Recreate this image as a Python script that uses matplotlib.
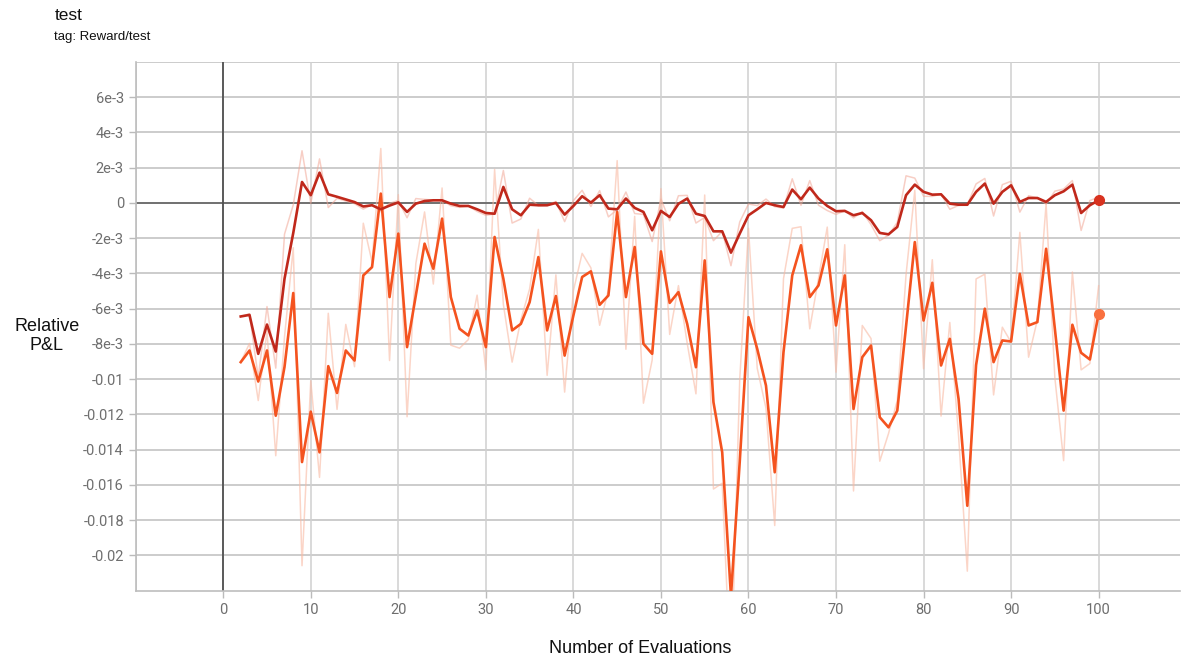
import numpy as np
import matplotlib
matplotlib.use("Agg")
import matplotlib.pyplot as plt

plt.rcParams['font.family'] = ['Liberation Sans', 'DejaVu Sans']

# evaluation index
steps = np.arange(2, 101)

# values in units of 1e-3
dark_smooth = [-6.44, -6.35, -8.56, -6.9, -8.43, -4.3, -1.7, 1.19, 0.44, 1.72,
               0.49, 0.35, 0.2, 0.05, -0.2, -0.13, -0.36, -0.15, 0.03, -0.51,
               -0.04, 0.11, 0.15, 0.15, -0.04, -0.17, -0.17, -0.36, -0.57, -0.61,
               0.91, -0.36, -0.70, -0.1, -0.13, -0.13, 0.0, -0.66, -0.17, 0.38,
               0.02, 0.44, -0.32, -0.36, 0.25, -0.28, -0.51, -1.55, -0.45, -0.8,
               -0.05, 0.25, -0.61, -0.74, -1.61, -1.61, -2.82, -1.74, -0.7, -0.36,
               0.0, -0.13, -0.23, 0.76, 0.21, 0.87, 0.25, -0.17, -0.47, -0.45,
               -0.7, -0.57, -0.98, -1.7, -1.78, -1.36, 0.44, 1.04, 0.63, 0.47,
               0.49, -0.04, -0.1, -0.1, 0.63, 1.1, -0.04, 0.63, 1.0, 0.06,
               0.28, 0.28, 0.06, 0.44, 0.66, 1.04, -0.57, -0.13, 0.15]
dark_raw = [-6.44, -6.29, -9.91, -5.88, -9.37, -1.77, -0.11, 2.96, -0.02, 2.50,
            -0.26, 0.26, 0.11, -0.04, -0.35, -0.09, -0.50, -0.02, 0.14, -0.84,
            0.25, 0.20, 0.17, 0.15, -0.16, -0.25, -0.17, -0.48, -0.70, -0.63,
            1.84, -1.14, -0.91, 0.27, -0.15, -0.13, 0.08, -1.06, 0.13, 0.72,
            -0.20, 0.70, -0.79, -0.38, 0.62, -0.60, -0.65, -2.19, 0.22, -1.01,
            0.41, 0.43, -1.14, -0.82, -2.14, -1.61, -3.56, -1.08, -0.06, -0.15,
            0.22, -0.21, -0.29, 1.37, -0.13, 1.27, -0.13, -0.43, -0.65, -0.44,
            -0.85, -0.49, -1.23, -2.14, -1.83, -1.10, 1.54, 1.41, 0.38, 0.37,
            0.50, -0.36, -0.14, -0.10, 1.08, 1.39, -0.74, 1.04, 1.23, -0.52,
            0.41, 0.28, -0.07, 0.67, 0.79, 1.27, -1.56, 0.14, 0.32]
orange_smooth = [-9.03, -8.37, -10.13, -8.37, -12.07, -9.3, -5.11, -14.7, -11.84, -14.15,
                 -9.26, -10.78, -8.37, -8.94, -4.11, -3.64, 0.53, -5.34, -1.74, -8.18,
                 -5.25, -2.31, -3.73, -0.89, -5.34, -7.14, -7.52, -6.1, -8.18, -1.93,
                 -4.3, -7.23, -6.86, -5.63, -3.07, -7.23, -5.28, -8.66, -6.38, -4.2,
                 -3.88, -5.78, -5.25, -0.51, -5.34, -2.5, -7.99, -8.56, -2.75, -5.67,
                 -5.06, -6.86, -9.32, -3.26, -11.3, -14.15, -22.3, -14.7, -6.48, -8.28,
                 -10.36, -15.28, -8.47, -4.11, -2.4, -5.34, -4.68, -2.63, -6.95, -4.11,
                 -11.69, -8.75, -8.09, -12.16, -12.73, -11.78, -7.0, -2.22, -6.67, -4.53,
                 -9.22, -7.71, -11.12, -17.18, -9.2, -6.0, -9.03, -7.8, -7.86, -4.02,
                 -6.95, -6.76, -2.6, -7.14, -11.78, -6.91, -8.5, -8.88, -6.29]
orange_raw = [-9.03, -7.97, -11.21, -7.29, -14.34, -7.60, -2.54, -20.58, -10.09, -15.57,
              -6.26, -11.71, -6.89, -9.29, -1.15, -3.35, 3.09, -8.94, 0.47, -12.13,
              -3.45, -0.51, -4.60, 0.85, -8.07, -8.24, -7.75, -5.23, -9.46, 1.90,
              -5.75, -9.03, -6.63, -4.88, -1.50, -9.78, -4.08, -10.73, -4.98, -2.86,
              -3.68, -6.94, -4.93, 2.40, -8.30, -0.76, -11.36, -8.91, 0.81, -7.46,
              -4.69, -7.96, -10.83, 0.45, -16.23, -15.90, -27.30, -10.04, -1.44, -9.38,
              -11.64, -18.30, -4.30, -1.44, -1.35, -7.14, -4.28, -1.37, -9.60, -2.37,
              -16.34, -6.95, -7.69, -14.65, -13.08, -11.20, -4.07, 0.71, -9.40, -3.22,
              -12.09, -6.78, -13.21, -20.89, -4.31, -4.04, -10.89, -7.05, -7.90, -1.67,
              -8.75, -6.64, -0.05, -9.92, -14.62, -3.92, -9.47, -9.11, -4.70]

yticks = [6e-3, 4e-3, 2e-3, 0, -2e-3, -4e-3, -6e-3, -8e-3, -0.01, -0.012,
          -0.014, -0.016, -0.018, -0.02]
ytick_labels = ['6e-3', '4e-3', '2e-3', '0', '-2e-3', '-4e-3', '-6e-3', '-8e-3',
                '-0.01', '-0.012', '-0.014', '-0.016', '-0.018', '-0.02']
xticks = [0, 10, 20, 30, 40, 50, 60, 70, 80, 90, 100]

dark_c = '#c0281b'
orange_c = '#f4531f'

fig = plt.figure(figsize=(11.83, 6.59), dpi=100)
ax = fig.add_axes([0.1147, 0.1036, 0.8828, 0.8024])

sc = 1e-3
ax.plot(steps, np.array(dark_raw) * sc, color='#f2a796', lw=1.1, alpha=0.55, zorder=2)
ax.plot(steps, np.array(orange_raw) * sc, color='#f9b9a3', lw=1.1, alpha=0.6, zorder=2)
ax.plot(steps, np.array(dark_smooth) * sc, color=dark_c, lw=1.9, zorder=4)
ax.plot(steps, np.array(orange_smooth) * sc, color=orange_c, lw=1.9, zorder=3)
ax.plot(steps[-1], dark_smooth[-1] * sc, 'o', color='#d8321f', ms=7, zorder=5)
ax.plot(steps[-1], orange_smooth[-1] * sc, 'o', color='#f9703f', ms=7, zorder=5)

ax.set_xlim(-10, 109.3)
ax.set_ylim(-0.022, 0.008)

# grid
for y in yticks + [0.008]:
    ax.axhline(y, color='#c8c8c8', lw=1.3, zorder=1)
for x in xticks + [-10]:
    ax.axvline(x, color='#d0d0d0', lw=1.1, zorder=1)
ax.axhline(0, color='#6a6a6a', lw=1.3, zorder=1.5)
ax.axvline(0, color='#505050', lw=1.3, zorder=1.5)

ax.set_yticks(yticks)
ax.set_yticklabels(ytick_labels)
ax.set_xticks(xticks)
ax.tick_params(axis='both', colors='#bbbbbb', labelcolor='#6e6e6e', labelsize=10.5,
               length=5, width=1)
for lab in ax.get_xticklabels() + ax.get_yticklabels():
    lab.set_family(['Roboto', 'DejaVu Sans'])

for side in ['top', 'right']:
    ax.spines[side].set_visible(False)
for side in ['left', 'bottom']:
    ax.spines[side].set_color('#bdbdbd')
    ax.spines[side].set_linewidth(1.2)

fig.text(0.1147 - 0.075, 0.49, 'Relative\nP&L', ha='center', va='center',
         fontsize=13, color='#111111', linespacing=1.1)
fig.text(0.541, 0.003, 'Number of Evaluations', ha='center', va='bottom',
         fontsize=13, color='#111111')
fig.text(0.046, 0.988, 'test', ha='left', va='top', fontsize=12.5, color='#111111')
fig.text(0.046, 0.953, 'tag: Reward/test', ha='left', va='top', fontsize=9.5, color='#111111')

fig.savefig('out.png', dpi=100, facecolor='white')
